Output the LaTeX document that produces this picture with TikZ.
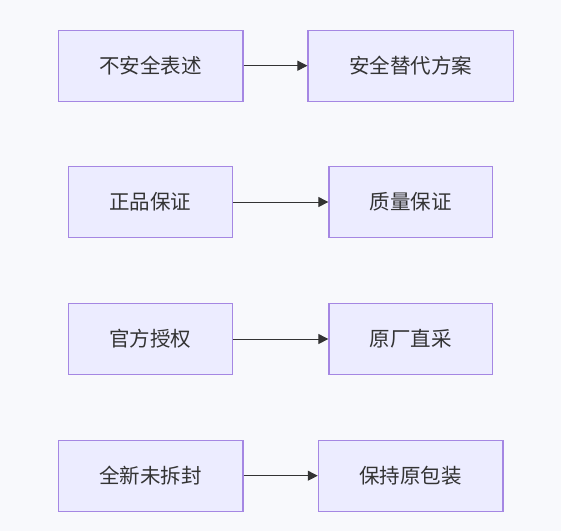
\documentclass[tikz,border=0pt]{standalone}
\usepackage{fontspec}
\setmainfont{Noto Sans CJK SC}
\usetikzlibrary{arrows.meta}
\definecolor{bgc}{HTML}{F8F9FC}
\definecolor{boxfill}{HTML}{ECECFF}
\definecolor{boxline}{HTML}{A587E3}
\definecolor{arrowc}{HTML}{333333}
\begin{document}
\begin{tikzpicture}[x=1pt,y=-1pt,
  box/.style={draw=boxline, fill=boxfill, line width=1.2pt, inner sep=0pt,
    minimum height=71pt, font=\fontsize{20.5}{24}\selectfont, text=arrowc},
  link/.style={draw=arrowc, line width=1pt, -{Triangle[length=10pt,width=10pt]}}]
\fill[bgc] (0,0) rectangle (561,531);
\useasboundingbox (0,0) rectangle (561,531);
% row 1
\node[box, minimum width=184.7pt] (a1) at (150.6,65.7) {不安全表述};
\node[box, minimum width=205.3pt] (b1) at (410.7,65.7) {安全替代方案};
% row 2
\node[box, minimum width=164pt] (a2) at (150.3,202) {正品保证};
\node[box, minimum width=163.7pt] (b2) at (410.8,202) {质量保证};
% row 3
\node[box, minimum width=164pt] (a3) at (150.3,339) {官方授权};
\node[box, minimum width=163.7pt] (b3) at (410.8,339) {原厂直采};
% row 4
\node[box, minimum width=184.7pt] (a4) at (150.6,475.7) {全新未拆封};
\node[box, minimum width=184.7pt] (b4) at (410.7,475.7) {保持原包装};
\draw[link] (a1) -- (b1);
\draw[link] (a2) -- (b2);
\draw[link] (a3) -- (b3);
\draw[link] (a4) -- (b4);
\end{tikzpicture}
\end{document}
